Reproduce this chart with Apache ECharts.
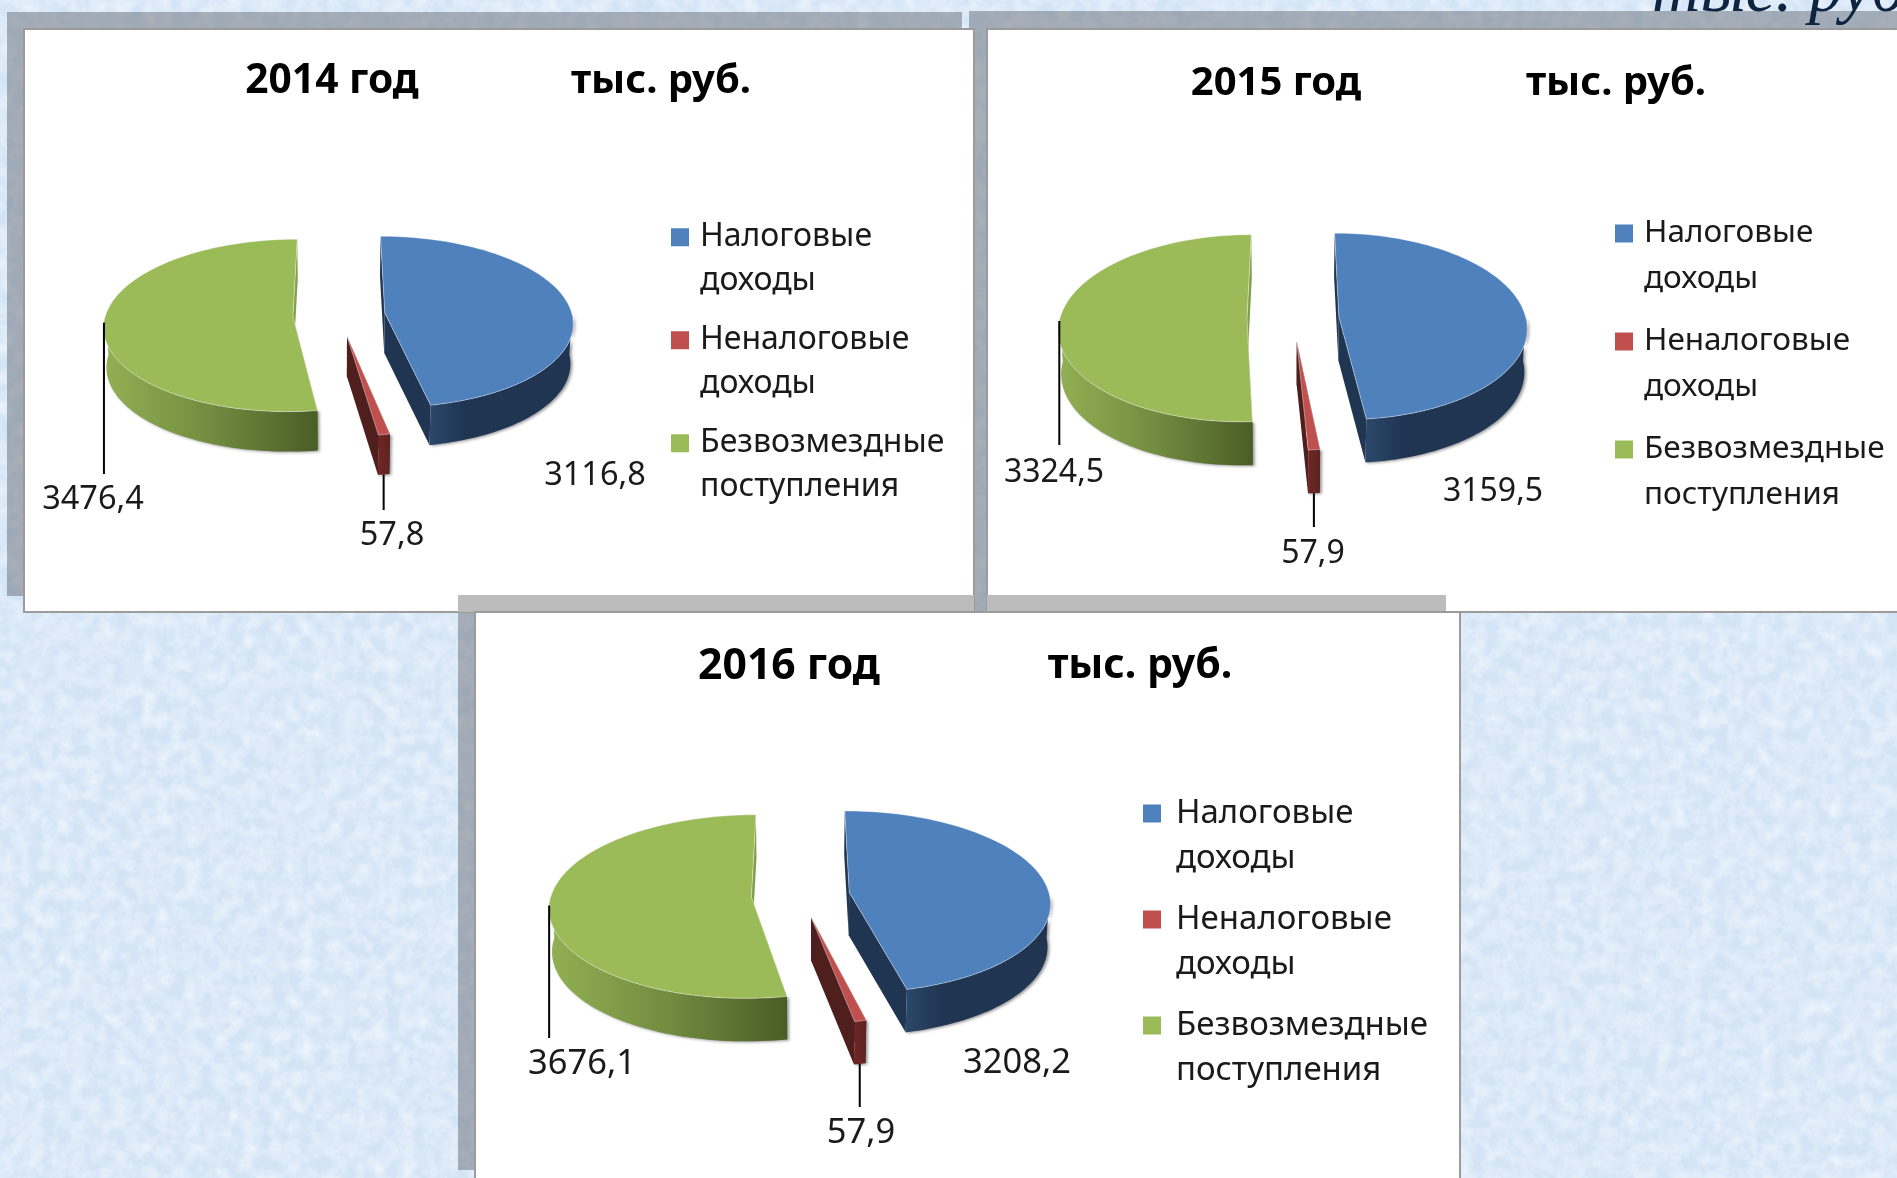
<!DOCTYPE html>
<html>
<head>
<meta charset="utf-8">
<title>Доходы бюджета</title>
<script src="https://cdn.jsdelivr.net/npm/echarts@6/dist/echarts.min.js"></script>
<style>
  html, body { margin: 0; height: 100%; overflow: hidden; background-color: #d3e4f6; }
  body {
    background-image: url("data:image/svg+xml,%3Csvg xmlns='http://www.w3.org/2000/svg' width='1897' height='1178'%3E%3Cfilter id='n'%3E%3CfeTurbulence type='fractalNoise' baseFrequency='0.07' numOctaves='4' seed='7'/%3E%3CfeColorMatrix values='0 0 0 0 1 0 0 0 0 1 0 0 0 0 1 0.7 0.7 0 0 -0.5'/%3E%3C/filter%3E%3Crect width='1897' height='1178' filter='url(%23n)'/%3E%3C/svg%3E");
  }
  #main { position: absolute; left: 0; top: 0; width: 1897px; height: 1178px; }
</style>
</head>
<body>
<div id="main"></div>
<script>
  // данные
  const categories = ['Налоговые доходы', 'Неналоговые доходы', 'Безвозмездные поступления']
  const years = ['2014 год', '2015 год', '2016 год']
  const unit = 'тыс. руб.'
  const values2014 = [3116.8, 57.8, 3476.4]
  const values2015 = [3159.5, 57.9, 3324.5]
  const values2016 = [3208.2, 57.9, 3676.1]
  const allValues = [values2014, values2015, values2016]

  const FONT = '"Noto Sans", "Open Sans", sans-serif'
  const EXPLODE = 0.246
  const PERSPECTIVE = 0.103
  const BOTTOM_SHRINK = 0.988

  // раскладка трёх диаграмм в пикселях страницы
  const layouts = [
    {
      cx: 339, cy: 315, rx: 187.4, ry: 85, depth: 40,
      yearX: 332, unitX: 661, titleY: 81.5, yearFont: 40.7, unitFont: 40,
      legendX: 671, legendY: 215.5, lineHeight: 43.5, rowPitch: 103, legendFont: 32, textGap: 6,
      labels: [[595, 476], [392, 536], [93, 500]], labelFont: 32.5,
      leaderEnd: [null, 510, 474]
    },
    {
      cx: 1293, cy: 318, rx: 187, ry: 92.5, depth: 43.5,
      yearX: 1276, unitX: 1616, titleY: 83.5, yearFont: 40, unitFont: 40,
      legendX: 1615, legendY: 210.5, lineHeight: 46, rowPitch: 108, legendFont: 31.5, textGap: 6,
      labels: [[1493, 492], [1313, 554], [1054, 473]], labelFont: 32,
      leaderEnd: [null, 527, 445]
    },
    {
      cx: 800.5, cy: 895, rx: 200.2, ry: 90.4, depth: 43,
      yearX: 789, unitX: 1140, titleY: 666.5, yearFont: 42.7, unitFont: 41,
      legendX: 1143, legendY: 791, lineHeight: 45, rowPitch: 106, legendFont: 33, textGap: 10,
      labels: [[1017, 1063], [861, 1133], [582, 1064]], labelFont: 34.5,
      leaderEnd: [null, 1107, 1038]
    }
  ]

  const sliceStyles = [
    {
      top: '#4f81bd', side: '#1f3552', legend: '#4f81bd',
      wall: [{ offset: 0, color: '#2b4769' }, { offset: 0.25, color: '#1f3552' }, { offset: 1, color: '#1f3552' }]
    },
    {
      top: '#c0504d', side: '#4f1f1e', legend: '#c0504d',
      wall: [{ offset: 0, color: '#6e2725' }, { offset: 1, color: '#5e2321' }]
    },
    {
      top: '#9bbb59', side: '#82a04a', legend: '#9bbb59',
      wall: [{ offset: 0, color: '#92b054' }, { offset: 0.5, color: '#728c40' }, { offset: 1, color: '#4a5d26' }]
    }
  ]

  function project (l, X, V, z) {
    const f = 1 / (1 - PERSPECTIVE * V)
    const s = z ? BOTTOM_SHRINK : 1
    return [l.cx + l.rx * X * f * s, l.cy + l.ry * V * f + (z ? l.depth : 0)]
  }

  function sliceGeometry (chartIdx, sliceIdx, value) {
    const vals = allValues[chartIdx]
    const total = vals.reduce((a, b) => a + b, 0)
    const before = vals.slice(0, sliceIdx).reduce((a, b) => a + b, 0)
    const start = before / total * Math.PI * 2
    const end = start + value / total * Math.PI * 2
    const mid = (start + end) / 2
    const ex = EXPLODE * Math.sin(mid)
    const ev = -EXPLODE * Math.cos(mid)
    const steps = Math.max(4, 2 * Math.ceil((end - start) / 0.06))
    const arc = []
    for (let i = 0; i <= steps; i++) {
      const a = start + (end - start) * i / steps
      arc.push([ex + Math.sin(a), ev - Math.cos(a)])
    }
    return { apex: [ex, ev], arc }
  }

  function renderSlice (chartIdx, sliceIdx, api) {
    const l = layouts[chartIdx]
    const st = sliceStyles[sliceIdx]
    const value = api.value(0)
    const g = sliceGeometry(chartIdx, sliceIdx, value)
    const topArc = g.arc.map(p => project(l, p[0], p[1], false))
    const botArc = g.arc.map(p => project(l, p[0], p[1], true))
    const apexTop = project(l, g.apex[0], g.apex[1], false)
    const apexBot = project(l, g.apex[0], g.apex[1], true)
    const last = topArc.length - 1
    // боковая стенка видна только у передней половины диска
    const front = g.arc.filter(p => p[1] >= -0.02)
    const wallTop = front.map(p => project(l, p[0], p[1], false))
    const wallBot = front.map(p => project(l, p[0], p[1], true))
    const children = [
      {
        type: 'polygon',
        silent: true,
        shape: { points: [apexTop, topArc[0], botArc[0], apexBot] },
        style: { fill: st.side }
      },
      {
        type: 'polygon',
        silent: true,
        shape: { points: [apexTop, topArc[last], botArc[last], apexBot] },
        style: { fill: st.side }
      },
      {
        type: 'polygon',
        silent: true,
        shape: { points: wallTop.concat(wallBot.slice().reverse()) },
        style: {
          fill: new echarts.graphic.LinearGradient(0, 0, 1, 0, st.wall),
          shadowBlur: 3,
          shadowOffsetX: 2,
          shadowOffsetY: 1,
          shadowColor: 'rgba(0,0,0,0.4)'
        }
      },
      {
        type: 'polygon',
        silent: true,
        shape: { points: [apexTop].concat(topArc) },
        style: { fill: st.top, stroke: 'rgba(255,255,255,0.4)', lineWidth: 1 }
      }
    ]
    // выноска идёт от середины дуги сектора
    const end = l.leaderEnd[sliceIdx]
    if (end !== null) {
      const midIdx = last / 2
      const anchor = sliceIdx === 2 ? topArc[midIdx] : botArc[midIdx]
      children.push({
        type: 'line',
        silent: true,
        shape: { x1: anchor[0], y1: anchor[1], x2: anchor[0], y2: end },
        style: { stroke: '#000', lineWidth: 2 }
      })
    }
    const pos = l.labels[sliceIdx]
    children.push({
      type: 'text',
      silent: true,
      style: {
        text: String(value).replace('.', ','),
        x: pos[0],
        y: pos[1],
        fill: '#1a1a1a',
        font: l.labelFont + 'px ' + FONT,
        align: 'center',
        verticalAlign: 'middle'
      }
    })
    return { type: 'group', children }
  }

  // значок легенды: квадрат на уровне первой строки подписи
  function legendIcon (lineHeight, width) {
    const h = lineHeight * 2
    const y = (lineHeight - 18) / 2
    return 'path://M0,' + y + 'H18V' + (y + 18) + 'H0Z M0,0L0,0Z M' + width + ',' + h + 'L' + width + ',' + h + 'Z'
  }

  const series = []
  allValues.forEach((vals, chartIdx) => {
    // зелёный сектор рисуем первым, синий последним
    [2, 1, 0].forEach(sliceIdx => {
      series.push({
        type: 'custom',
        name: categories[sliceIdx],
        coordinateSystem: 'none',
        silent: true,
        animation: false,
        itemStyle: { color: sliceStyles[sliceIdx].legend },
        data: [[vals[sliceIdx]]],
        renderItem: (params, api) => renderSlice(chartIdx, sliceIdx, api)
      })
    })
  })

  const titles = []
  layouts.forEach((l, i) => {
    [[years[i], l.yearX, l.yearFont], [unit, l.unitX, l.unitFont]].forEach(t => {
      titles.push({
        text: t[0],
        left: t[1],
        top: l.titleY,
        padding: 0,
        textAlign: 'center',
        textVerticalAlign: 'middle',
        textStyle: { fontFamily: FONT, fontSize: t[2], fontWeight: 'bold', color: '#000' }
      })
    })
  })

  const legends = layouts.map(l => ({
    data: categories,
    left: l.legendX,
    top: l.legendY,
    orient: 'vertical',
    padding: 0,
    selectedMode: false,
    icon: legendIcon(l.lineHeight, 18 + l.textGap),
    itemWidth: 18 + l.textGap,
    itemHeight: l.lineHeight * 2,
    itemGap: l.rowPitch - l.lineHeight * 2,
    formatter: name => name.replace(' ', '\n'),
    textStyle: { fontFamily: FONT, fontSize: l.legendFont, lineHeight: l.lineHeight, color: '#1a1a1a' }
  }))

  const SHADOW = 'rgba(110,115,122,0.52)'
  const STRIP = '#bcbcbc'
  const EDGE = '#9b9b9b'
  const rect = (x, y, width, height, fill, stroke) => ({
    type: 'rect',
    silent: true,
    shape: { x, y, width, height },
    style: { fill, stroke: stroke || null, lineWidth: stroke ? 2 : 0 }
  })
  const panels = [
    // подложки
    rect(7, 12, 955, 584, SHADOW),
    rect(969, 11, 928, 601, SHADOW),
    rect(458, 612, 17, 558, SHADOW),
    // белые листы
    rect(24, 29, 950, 583, '#fff', EDGE),
    rect(987, 29, 920, 583, '#fff', EDGE),
    rect(458, 595, 516, 17, STRIP),
    rect(987, 595, 459, 17, STRIP),
    rect(475, 612, 985, 576, '#fff', EDGE),
    {
      type: 'text',
      silent: true,
      style: {
        text: 'тыс. руб',
        x: 1652,
        y: -40,
        fill: '#0f2440',
        font: 'italic 67px "Liberation Serif", serif'
      }
    }
  ]

  const chart = echarts.init(document.getElementById('main'))
  chart.setOption({
    animation: false,
    backgroundColor: 'transparent',
    title: titles,
    legend: legends,
    graphic: { elements: panels },
    series
  })
</script>
</body>
</html>
